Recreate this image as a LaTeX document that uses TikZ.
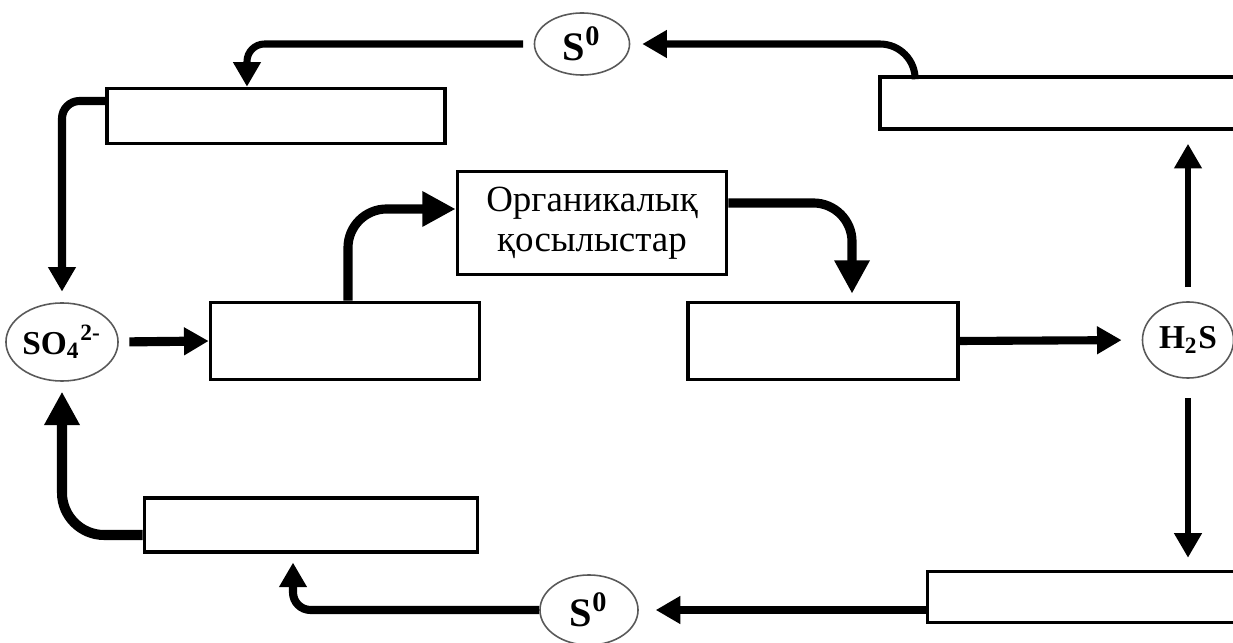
\documentclass[tikz,border=0pt]{standalone}
\usepackage{fontspec}
\setmainfont{Liberation Serif}
\usetikzlibrary{arrows.meta, shapes.geometric}

\tikzset{
  box/.style={draw, line width=1pt, fill=white, inner sep=0pt},
  chem/.style={ellipse, draw=black!65, line width=0.45pt, fill=white, inner sep=0pt, font=\bfseries},
  flow/.style={line width=2pt, -{Triangle[length=7pt,width=7.5pt]}, rounded corners=5pt},
  bigflow/.style={line width=2.6pt, -{Triangle[length=9.5pt,width=9.5pt]}, rounded corners=11pt}
}

\begin{document}
\begin{tikzpicture}[x=0.01cm, y=-0.01cm]
    \useasboundingbox (0,0) rectangle (1233,643);
    \clip (0,0) rectangle (1233,643);

    \node[box, minimum width=3.38cm, minimum height=0.55cm] (boxTL) at (276,116) {};
    \node[box, minimum width=3.60cm, minimum height=0.52cm] (boxTR) at (1060,103) {};
    \node[box, minimum width=2.69cm, minimum height=0.77cm] (boxL) at (345,341) {};
    \node[box, minimum width=2.69cm, minimum height=1.03cm, align=center,
          font=\fontsize{10.5}{11.5}\selectfont] (orgbox) at (592,223) {Органикалық\\қосылыстар};
    \node[box, minimum width=2.70cm, minimum height=0.77cm] (boxR) at (823,341) {};
    \node[box, minimum width=3.33cm, minimum height=0.54cm] (boxBL) at (311,525) {};
    \node[box, minimum width=3.13cm, minimum height=0.51cm] (boxBR) at (1084,597) {};

    \node[chem, minimum width=0.95cm, minimum height=0.62cm, font=\bfseries\fontsize{11.5}{12}\selectfont] (sTop) at (582,44) {S\textsuperscript{0}};
    \node[chem, minimum width=0.98cm, minimum height=0.70cm, font=\bfseries\fontsize{11.5}{12}\selectfont] (sBot) at (589,610) {S\textsuperscript{0}};
    \node[chem, minimum width=1.04cm, minimum height=0.78cm, font=\bfseries\fontsize{9.5}{10}\selectfont] (sulfate) at (62,342) {SO\textsubscript{4}\textsuperscript{2-}};
    \node[chem, minimum width=0.91cm, minimum height=0.76cm, font=\bfseries\fontsize{9.5}{10}\selectfont] (hsulf) at (1188,340) {H\textsubscript{2}S};

    \coordinate (toBL) at (293,552);

    \draw[flow, shorten <=3pt] (sTop.west) -| ([xshift=-0.29cm]boxTL.north);
    \draw[flow, line width=2.3pt, shorten >=3pt] ([yshift=0.15cm]boxTL.west) -| (sulfate.north);
    \draw[flow, line width=2.6pt, shorten <=3pt] (sulfate.east) -- (boxL.west);
    \draw[bigflow] ([xshift=0.03cm]boxL.north) |- ([yshift=0.14cm]orgbox.west);
    \draw[bigflow, shorten >=2pt] ([yshift=0.2cm]orgbox.east) -| ([xshift=0.29cm]boxR.north);
    \draw[flow, line width=2.3pt, shorten >=5.7pt] (boxR.east) -- (hsulf.west);
    \draw[flow, line width=1.8pt, shorten <=4pt, shorten >=3.7pt] (hsulf.north) -- (hsulf.north |- boxTR.south);
    \draw[flow, rounded corners=10pt, shorten >=3.4pt] ([xshift=0.37cm]boxTR.north west) |- (sTop.east);
    \draw[flow, line width=1.8pt, shorten <=5.5pt, shorten >=3.4pt] (hsulf.south) -- (hsulf.south |- boxBR.north);
    \draw[flow, shorten >=4.8pt] (boxBR.west |- sBot.east) -- (sBot.east);
    \draw[flow, line width=2.3pt, shorten >=3pt] (sBot.west) -| (toBL);
    \draw[bigflow, line width=2.85pt, rounded corners=12pt, shorten >=2.8pt] ([yshift=-0.1cm]boxBL.west) -| (sulfate.south);
\end{tikzpicture}
\end{document}
